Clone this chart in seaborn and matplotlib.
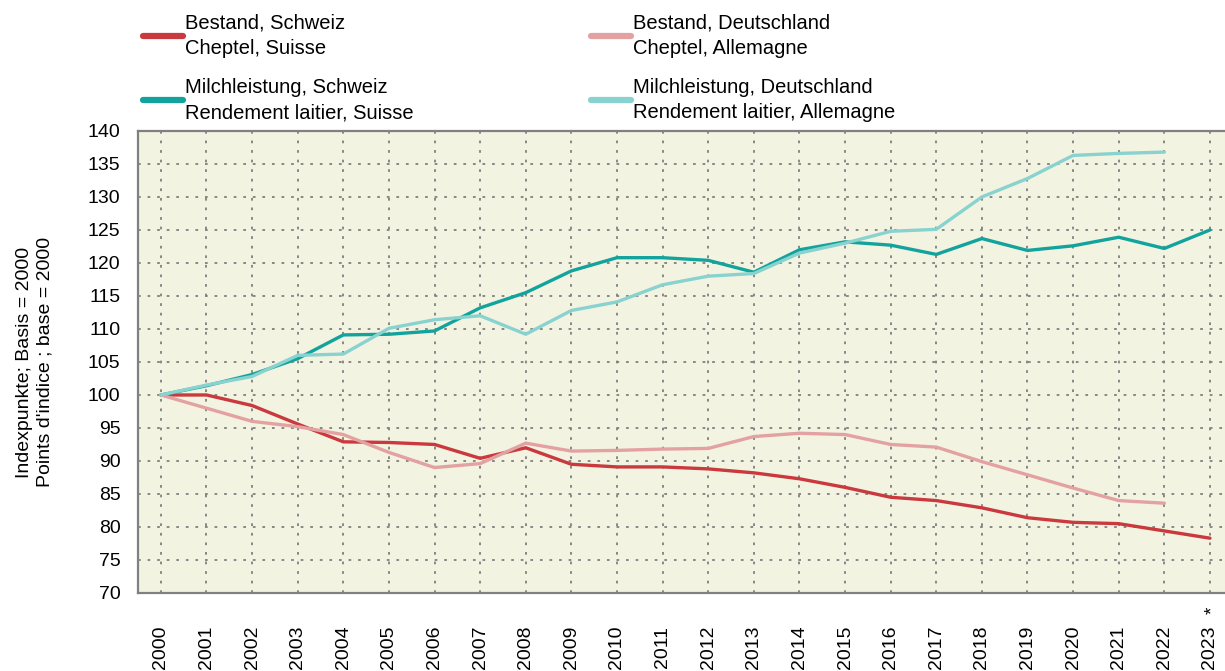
import numpy as np
import pandas as pd
import seaborn as sns
import matplotlib.pyplot as plt
import matplotlib.transforms as mtransforms

years = list(range(2000, 2024))

bestand_ch = [100.0, 100.0, 98.4, 95.6, 92.9, 92.8, 92.5, 90.4, 92.0, 89.5, 89.1, 89.1,
              88.8, 88.2, 87.3, 86.0, 84.5, 84.0, 82.9, 81.4, 80.7, 80.5, 79.4, 78.3]
bestand_de = [100.0, 98.0, 96.0, 95.2, 94.0, 91.3, 89.0, 89.6, 92.7, 91.5, 91.6, 91.8,
              91.9, 93.7, 94.2, 94.0, 92.5, 92.1, 89.9, 87.9, 85.9, 84.0, 83.6, np.nan]
milch_ch = [100.0, 101.4, 103.1, 105.5, 109.1, 109.2, 109.7, 113.2, 115.5, 118.8, 120.8, 120.8,
            120.4, 118.6, 122.0, 123.2, 122.7, 121.3, 123.7, 121.9, 122.6, 123.9, 122.2, 125.0]
milch_de = [100.0, 101.5, 102.8, 106.0, 106.2, 110.1, 111.4, 112.0, 109.2, 112.8, 114.1, 116.7,
            118.0, 118.4, 121.5, 123.0, 124.8, 125.1, 130.0, 132.8, 136.3, 136.6, 136.8, np.nan]

series_labels = [
    "Bestand, Schweiz\nCheptel, Suisse",
    "Milchleistung, Schweiz\nRendement laitier, Suisse",
    "Bestand, Deutschland\nCheptel, Allemagne",
    "Milchleistung, Deutschland\nRendement laitier, Allemagne",
]
series_colors = ["#c9393d", "#12a39d", "#e4a1a2", "#88d3cf"]
tick_labels = [str(y) for y in years]

df = pd.DataFrame({
    "year": years * 4,
    "value": bestand_ch + milch_ch + bestand_de + milch_de,
    "series": [l for l in series_labels for _ in years],
})
df = df.dropna()

sns.set_style("white")
plt.rcParams["font.family"] = ["Liberation Sans", "DejaVu Sans"]
plt.rcParams["text.color"] = "black"

fig = plt.figure(figsize=(12.25, 6.71), dpi=100)
ax = fig.add_axes([0.1127, 0.1163, 0.8873, 0.6885])
ax.set_facecolor("#f3f3e2")

sns.lineplot(data=df, x="year", y="value", hue="series", hue_order=series_labels,
             palette=series_colors, linewidth=2.4, estimator=None, ax=ax)

handles, labels = ax.get_legend_handles_labels()
ax.get_legend().remove()

ax.set_xlim(1999.5, 2023.33)
ax.set_ylim(70, 140)
ax.set_xticks(years)
ax.set_xticklabels(tick_labels, rotation=90)
ax.set_yticks(range(70, 141, 5))
ax.set_xlabel("")
ax.set_ylabel("")

ax.grid(True, color="#7f7f7f", linestyle=(0, (1.5, 3.8)), linewidth=1.3)
ax.set_axisbelow(True)

for side in ["left", "bottom", "top"]:
    ax.spines[side].set_color("#808080")
    ax.spines[side].set_linewidth(1.6)
ax.spines["right"].set_visible(False)

ax.tick_params(axis="both", colors="#808080", labelcolor="black", labelsize=14,
               length=8.6, width=1.6, direction="out")
ax.tick_params(axis="x", pad=15)
ax.tick_params(axis="y", pad=4)

# Stern bei 2023 (provisorisch)
trans = mtransforms.blended_transform_factory(ax.transData, fig.transFigure)
ax.text(2023.05, 1 - 610 / 671, "*", transform=trans, ha="center", va="center",
        fontsize=13.5, rotation=90)

fig.text(34.5 / 1225, 0.4605, "Indexpunkte; Basis = 2000\nPoints d'indice ; base = 2000",
         rotation=90, ha="center", va="center", multialignment="center",
         fontsize=14, linespacing=1.3)

leg = fig.legend(handles, labels, loc="upper left", bbox_to_anchor=(0.1018, 1.007),
                 ncol=2, frameon=False, fontsize=14.5, handlelength=2.0,
                 handletextpad=0.1, columnspacing=8.8, labelspacing=1.0)
for line in leg.get_lines():
    line.set_linewidth(4.5)
for t in leg.get_texts():
    t.set_linespacing(1.42)

fig.savefig("out.png", dpi=100)
